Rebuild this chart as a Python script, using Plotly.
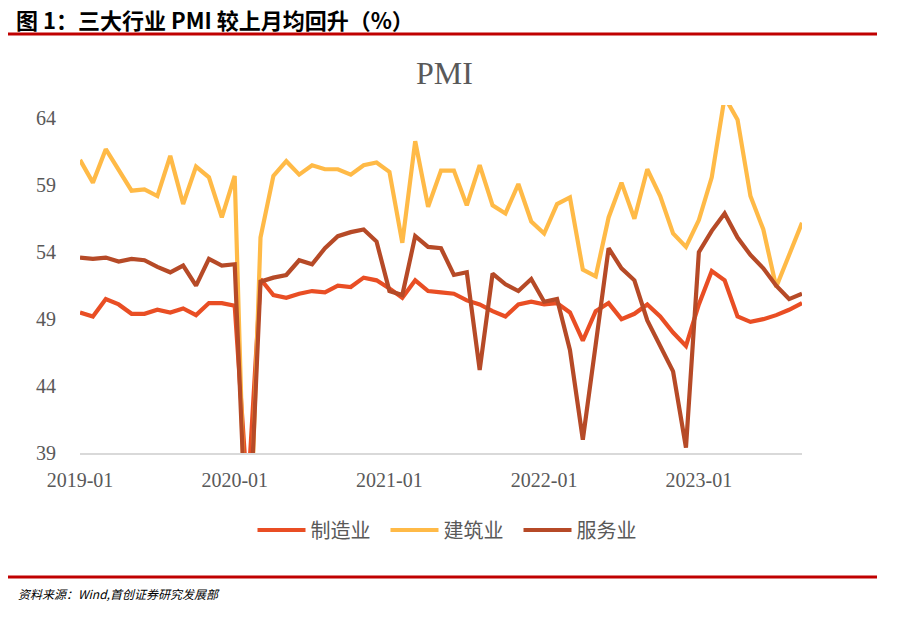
import plotly.graph_objects as go

months = [f"{y}-{m:02d}" for y in range(2019, 2024) for m in range(1, 13)][:57]

manufacturing = [
    49.5, 49.2, 50.5, 50.1, 49.4, 49.4, 49.7, 49.5, 49.8, 49.3, 50.2, 50.2,
    50.0, 35.7, 52.0, 50.8, 50.6, 50.9, 51.1, 51.0, 51.5, 51.4, 52.1, 51.9,
    51.3, 50.6, 51.9, 51.1, 51.0, 50.9, 50.4, 50.1, 49.6, 49.2, 50.1, 50.3,
    50.1, 50.2, 49.5, 47.4, 49.6, 50.2, 49.0, 49.4, 50.1, 49.2, 48.0, 47.0,
    50.1, 52.6, 51.9, 49.2, 48.8, 49.0, 49.3, 49.7, 50.2,
]
construction = [
    60.9, 59.2, 61.7, 60.1, 58.6, 58.7, 58.2, 61.2, 57.6, 60.4, 59.6, 56.6,
    59.7, 26.6, 55.1, 59.7, 60.8, 59.8, 60.5, 60.2, 60.2, 59.8, 60.5, 60.7,
    60.0, 54.7, 62.3, 57.4, 60.1, 60.1, 57.5, 60.5, 57.5, 56.9, 59.1, 56.3,
    55.4, 57.6, 58.1, 52.7, 52.2, 56.6, 59.2, 56.5, 60.2, 58.2, 55.4, 54.4,
    56.4, 59.6, 65.6, 63.9, 58.2, 55.7, 51.4, 53.8, 56.2,
]
services = [
    53.6, 53.5, 53.6, 53.3, 53.5, 53.4, 52.9, 52.5, 53.0, 51.5, 53.5, 53.0,
    53.1, 30.1, 51.8, 52.1, 52.3, 53.4, 53.1, 54.3, 55.2, 55.5, 55.7, 54.8,
    51.1, 50.8, 55.2, 54.4, 54.3, 52.3, 52.5, 45.2, 52.4, 51.6, 51.1, 52.0,
    50.3, 50.5, 46.7, 40.0, 47.1, 54.3, 52.8, 51.9, 48.9, 47.0, 45.1, 39.4,
    54.0, 55.6, 56.9, 55.1, 53.8, 52.8, 51.5, 50.5, 50.9,
]

series_names = ["制造业", "建筑业", "服务业"]
series_colors = ["#E94E24", "#FFBA47", "#B64A27"]
x_ticks = ["2019-01", "2020-01", "2021-01", "2022-01", "2023-01"]
y_ticks = [39, 44, 49, 54, 59, 64]

fig = go.Figure()
for name, vals, col in zip(series_names, [manufacturing, construction, services], series_colors):
    fig.add_trace(go.Scatter(
        x=months, y=vals, name=name, mode="lines",
        line=dict(color=col, width=4.2),
    ))

W, H = 900, 620
PL, PR, PT, PB = 80, 802, 105, 453   # plot area in screenshot coords
L, R, T, B = PL, W - PR, PT, H - PB
pw, ph = PR - PL, PB - PT

def px(x):
    return (x - PL) / pw

def py(y):
    return (PB - y) / ph

fig.update_layout(
    width=W, height=H,
    margin=dict(l=L, r=R, t=T, b=B),
    paper_bgcolor="white", plot_bgcolor="white",
    showlegend=True,
    legend=dict(
        orientation="h", x=px(452), xanchor="center", y=py(530), yanchor="middle",
        font=dict(family="Noto Sans CJK SC", size=20, color="#595959"),
        itemwidth=48, entrywidth=70, entrywidthmode="pixels", tracegroupgap=0,
    ),
    xaxis=dict(
        type="category", range=[0, 56],
        tickmode="array", tickvals=x_ticks, ticktext=x_ticks,
        showgrid=False, zeroline=False,
        showline=True, linecolor="#D9D9D9", linewidth=1.5,
        ticks="outside", ticklen=8, tickcolor="rgba(0,0,0,0)",
        tickfont=dict(family="Liberation Serif", size=20, color="#595959"),
    ),
    yaxis=dict(
        range=[39, 65], tickmode="array", tickvals=y_ticks,
        showgrid=False, zeroline=False, showline=False,
        ticks="outside", ticklen=19, tickcolor="rgba(0,0,0,0)",
        tickfont=dict(family="Liberation Serif", size=20, color="#595959"),
    ),
    annotations=[
        dict(text="图 1：三大行业 PMI 较上月均回升（%）", xref="paper", yref="paper",
             x=px(14), y=py(19), xanchor="left", yanchor="middle", showarrow=False,
             font=dict(family="Noto Sans CJK SC", size=22, color="#000000", weight="bold")),
        dict(text="PMI", xref="paper", yref="paper",
             x=px(445), y=py(73), xanchor="center", yanchor="middle", showarrow=False,
             font=dict(family="Liberation Serif", size=32, color="#595959")),
        dict(text="<i>资料来源：Wind,首创证券研究发展部</i>", xref="paper", yref="paper",
             x=px(16), y=py(593), xanchor="left", yanchor="middle", showarrow=False,
             font=dict(family="Noto Sans CJK SC", size=12, color="#000000")),
    ],
    shapes=[
        dict(type="line", xref="paper", yref="paper", x0=px(8), x1=px(877),
             y0=py(34), y1=py(34), line=dict(color="#C00000", width=3)),
        dict(type="line", xref="paper", yref="paper", x0=px(8), x1=px(877),
             y0=py(577), y1=py(577), line=dict(color="#C00000", width=3)),
    ],
)

fig.write_html(
    "out.html",
    config={"displayModeBar": False},
    post_script="document.body.style.margin='0';document.body.style.overflow='hidden';",
)
